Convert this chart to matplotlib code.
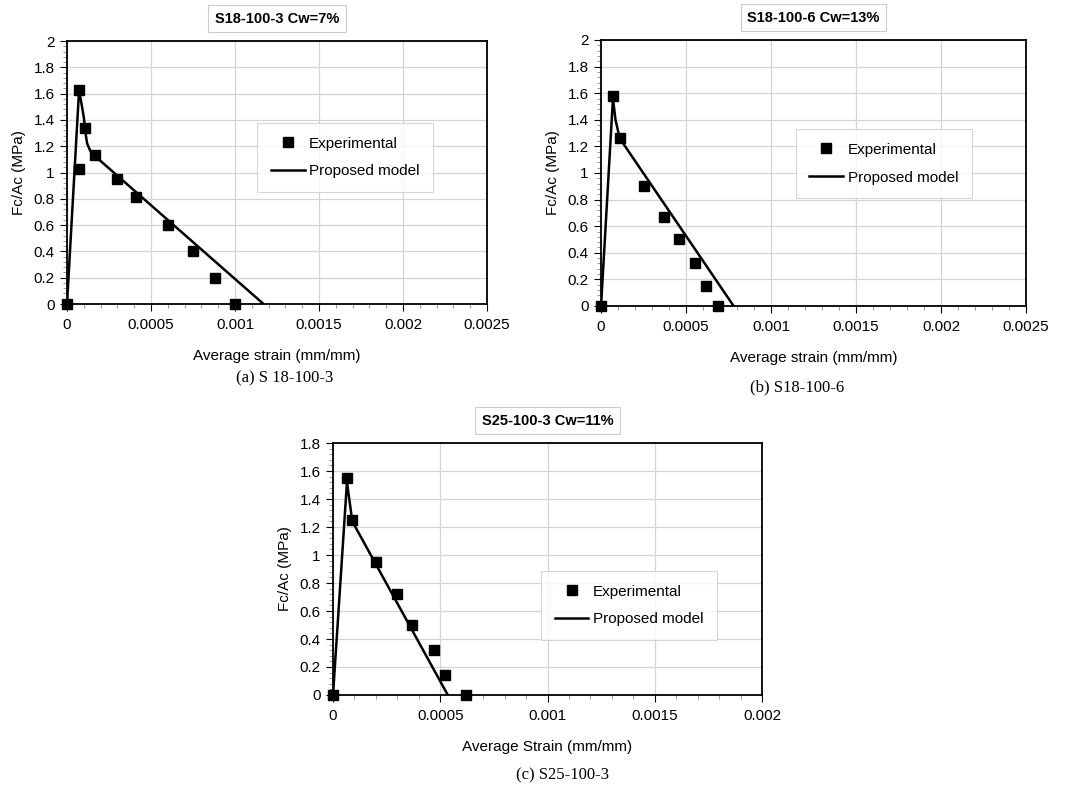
import matplotlib.pyplot as plt
import numpy as np
from matplotlib.ticker import MultipleLocator, FuncFormatter

plt.rcParams['font.family'] = ['Liberation Sans', 'DejaVu Sans']

# (a) S18-100-3
exp_a_x = [0, 0.00007, 0.00007, 0.000105, 0.000165, 0.0003, 0.00041, 0.0006, 0.00075, 0.00088, 0.001]
exp_a_y = [0, 1.03, 1.63, 1.34, 1.13, 0.95, 0.81, 0.60, 0.40, 0.20, 0]
mod_a_x = [0, 0.000072, 0.0001, 0.00011, 0.00012, 0.00014, 0.00018, 0.00117]
mod_a_y = [0, 1.63, 1.42, 1.30, 1.22, 1.16, 1.11, 0]

# (b) S18-100-6
exp_b_x = [0, 0.00007, 0.00011, 0.00025, 0.00037, 0.00046, 0.00055, 0.00062, 0.00069]
exp_b_y = [0, 1.58, 1.26, 0.90, 0.67, 0.50, 0.32, 0.15, 0]
mod_b_x = [0, 0.00007, 0.000085, 0.00011, 0.00078]
mod_b_y = [0, 1.56, 1.40, 1.26, 0]

# (c) S25-100-3
exp_c_x = [0, 0.000067, 0.00009, 0.0002, 0.0003, 0.00037, 0.00047, 0.00052, 0.00062]
exp_c_y = [0, 1.55, 1.25, 0.95, 0.72, 0.50, 0.32, 0.14, 0]
mod_c_x = [0, 0.000065, 0.00009, 0.000535]
mod_c_y = [0, 1.52, 1.24, 0]

panels = [
    dict(rect=[0.0628, 0.6137, 0.3936, 0.3342], ex=exp_a_x, ey=exp_a_y, mx=mod_a_x, my=mod_a_y,
         xmax=0.0025, ymax=2.0, title='S18-100-3 Cw=7%', xlabel='Average strain (mm/mm)',
         caption='(a) S 18-100-3', cap_xy=(0.267, 0.509), leg=(0.44, 0.44, 0.445, 0.235)),
    dict(rect=[0.5633, 0.6112, 0.3983, 0.3380], ex=exp_b_x, ey=exp_b_y, mx=mod_b_x, my=mod_b_y,
         xmax=0.0025, ymax=2.0, title='S18-100-6 Cw=13%', xlabel='Average strain (mm/mm)',
         caption='(b) S18-100-6', cap_xy=(0.747, 0.498), leg=(0.445, 0.42, 0.44, 0.23)),
    dict(rect=[0.3121, 0.1169, 0.4021, 0.3202], ex=exp_c_x, ey=exp_c_y, mx=mod_c_x, my=mod_c_y,
         xmax=0.002, ymax=1.8, title='S25-100-3 Cw=11%', xlabel='Average Strain (mm/mm)',
         caption='(c) S25-100-3', cap_xy=(0.527, 0.004), leg=(0.490, 0.23, 0.40, 0.25)),
]


def fmt(v, pos):
    s = f"{v:.4f}".rstrip('0').rstrip('.')
    return s


fig = plt.figure(figsize=(10.67, 7.87), dpi=100)

for p in panels:
    ax = fig.add_axes(p['rect'])
    ax.plot(p['mx'], p['my'], color='black', lw=1.8, label='Proposed model', zorder=3)
    ax.plot(p['ex'], p['ey'], ls='none', marker='s', ms=7.5, color='black', label='Experimental',
            zorder=4, clip_on=False)
    ax.set_xlim(0, p['xmax'])
    ax.set_ylim(0, p['ymax'])
    ax.xaxis.set_major_locator(MultipleLocator(0.0005))
    ax.xaxis.set_minor_locator(MultipleLocator(0.0001))
    ax.yaxis.set_major_locator(MultipleLocator(0.2))
    ax.yaxis.set_minor_locator(MultipleLocator(0.04))
    ax.xaxis.set_major_formatter(FuncFormatter(fmt))
    ax.yaxis.set_major_formatter(FuncFormatter(fmt))
    ax.grid(True, which='major', color='#d4d4d4', lw=0.9)
    ax.set_axisbelow(True)
    for s in ax.spines.values():
        s.set_linewidth(1.3)
    ax.tick_params(which='major', direction='out', length=5, width=0.8, labelsize=11)
    ax.tick_params(axis='x', which='major', pad=5)
    ax.tick_params(axis='y', which='major', pad=4)
    ax.tick_params(which='minor', direction='out', length=3, width=0.6, color='#888888')
    ax.set_xlabel(p['xlabel'], fontsize=11, labelpad=12)
    ax.set_ylabel('Fc/Ac (MPa)', fontsize=11, labelpad=5)
    ax.annotate(p['title'], xy=(0.5, 1.0), xycoords='axes fraction', xytext=(0, 16),
                textcoords='offset points', ha='center', va='center',
                fontsize=10.5, fontweight='bold',
                bbox=dict(boxstyle='square,pad=0.45', fc='white', ec='#cccccc', lw=0.8))
    h, l = ax.get_legend_handles_labels()
    leg = ax.legend(h[::-1], l[::-1], loc='center', bbox_to_anchor=p['leg'],
                    fontsize=11, frameon=True, fancybox=False, edgecolor='#cccccc',
                    handlelength=2.2, handletextpad=0.3, labelspacing=0.9, borderpad=0.9)
    leg.get_frame().set_linewidth(0.8)
    fig.text(p['cap_xy'][0], p['cap_xy'][1], p['caption'], ha='center', va='bottom',
             fontsize=12, family=['Liberation Serif', 'DejaVu Serif'])

fig.savefig('out.png', dpi=100, facecolor='white')
